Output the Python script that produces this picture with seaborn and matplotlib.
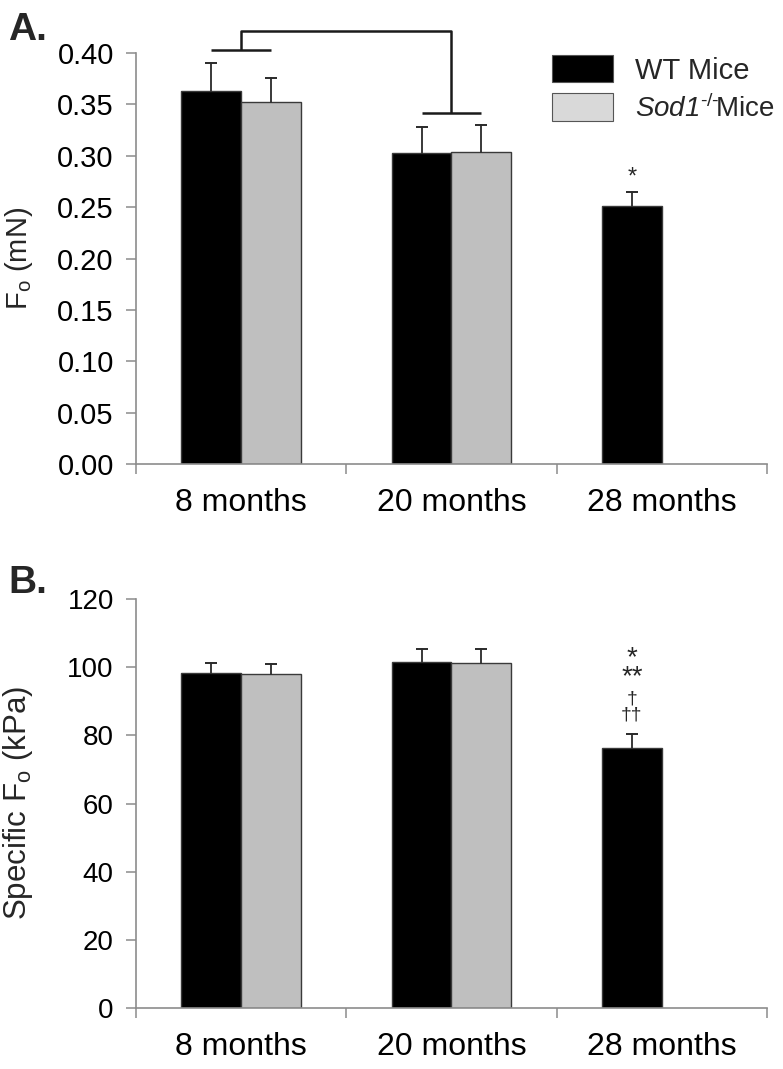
import matplotlib
matplotlib.use("Agg")
import matplotlib.pyplot as plt
from matplotlib.patches import Patch
import seaborn as sns
import pandas as pd
import numpy as np

# data
ages = ['8 months', '20 months', '28 months']
groups = ['WT', 'Sod1']

fo_wt = [0.363, 0.303, 0.251]
fo_wt_err = [0.027, 0.025, 0.014]
fo_sod = [0.352, 0.304]
fo_sod_err = [0.024, 0.026]

sfo_wt = [98.3, 101.4, 76.4]
sfo_wt_err = [3.0, 4.0, 3.9]
sfo_sod = [98.1, 101.1]
sfo_sod_err = [2.7, 4.2]

fo_ticks = [0.00, 0.05, 0.10, 0.15, 0.20, 0.25, 0.30, 0.35, 0.40]
sfo_ticks = [0, 20, 40, 60, 80, 100, 120]

bar_colors = ['#000000', '#bfbfbf']
legend_colors = ['#000000', '#d9d9d9']
legend_labels = ['WT Mice', r'$\mathsf{Sod1}^{\text{-/-}}\!$Mice']

sns.set_theme(style='white')
plt.rcParams['font.family'] = ['Liberation Sans', 'DejaVu Sans']
plt.rcParams['mathtext.fontset'] = 'custom'
plt.rcParams['mathtext.rm'] = 'Liberation Sans'
plt.rcParams['mathtext.it'] = 'Liberation Sans:italic'
plt.rcParams['mathtext.sf'] = 'Liberation Sans:italic'
plt.rcParams['mathtext.bf'] = 'Liberation Sans:bold'

spine_col = '#8c8c8c'


def make_df(wt, sod):
    rows = [(a, 'WT', v) for a, v in zip(ages, wt)]
    rows += [(a, 'Sod1', v) for a, v in zip(ages, sod)]
    return pd.DataFrame(rows, columns=['age', 'group', 'value'])


def draw_panel(ax, wt, wt_err, sod, sod_err, ticks, fmt, yfs):
    df = make_df(wt, sod)
    sns.barplot(data=df, x='age', y='value', hue='group', order=ages,
                hue_order=groups, palette=bar_colors, width=0.57,
                errorbar=None, edgecolor='#3a3a3a', linewidth=1.0,
                legend=False, ax=ax)
    centers = []
    for cont, errs in zip(ax.containers, [wt_err, sod_err]):
        xs = []
        for bar, e in zip(cont, errs):
            x = bar.get_x() + bar.get_width() / 2
            h = bar.get_height()
            # one-sided error bar: stem plus top cap only
            ax.plot([x, x], [h, h + e], color='#2a2a2a', lw=1.3, zorder=1)
            ax.plot([x], [h + e], marker='_', ms=8, mew=1.4, color='#2a2a2a', zorder=1)
            xs.append(x)
        centers.append(xs)
    ax.set_xlim(-0.5, 2.5)
    ax.set_ylim(ticks[0], ticks[-1])
    ax.set_yticks(ticks)
    ax.set_yticklabels([fmt.format(t) for t in ticks])
    ax.set_xticks(range(len(ages)))
    ax.set_xticklabels(ages)
    ax.set_xticks([-0.5, 0.5, 1.5, 2.5], minor=True)
    for s in ['top', 'right']:
        ax.spines[s].set_visible(False)
    for s in ['left', 'bottom']:
        ax.spines[s].set_color(spine_col)
        ax.spines[s].set_linewidth(1.2)
    ax.tick_params(axis='y', which='major', left=True, length=7, width=1.1,
                   color=spine_col, pad=9, labelsize=yfs, labelcolor='black')
    ax.tick_params(axis='x', which='major', bottom=False, length=0, pad=17,
                   labelsize=23, labelcolor='black')
    ax.tick_params(axis='x', which='minor', bottom=True, length=7, width=1.1,
                   color=spine_col)
    ax.set_xlabel('')
    return centers


fig = plt.figure(figsize=(7.83, 10.69), dpi=100)
axA = fig.add_axes([136 / 783, 1 - 464 / 1069, 631 / 783, 411 / 1069])
axB = fig.add_axes([136 / 783, 1 - 1008 / 1069, 631 / 783, 409 / 1069])

cA = draw_panel(axA, fo_wt, fo_wt_err, fo_sod, fo_sod_err, fo_ticks, '{:.2f}', 21)
cB = draw_panel(axB, sfo_wt, sfo_wt_err, sfo_sod, sfo_sod_err, sfo_ticks, '{:.0f}', 20)

axA.set_ylabel(r'F$_\mathrm{o}$ (mN)', fontsize=21)
axB.set_ylabel(r'Specific F$_\mathrm{o}$ (kPa)', fontsize=22.5)
axA.yaxis.set_label_coords(-0.16, 0.5)
axB.yaxis.set_label_coords(-0.16, 0.5)

# significance brackets in panel A
bk = dict(color='#1a1a1a', lw=1.8, clip_on=False, solid_capstyle='butt')
wt8, wt20 = cA[0][0], cA[0][1]
sod8, sod20 = cA[1][0], cA[1][1]
mid8 = (wt8 + sod8) / 2
mid20 = (wt20 + sod20) / 2
axA.plot([wt8, sod8], [0.403, 0.403], **bk)
axA.plot([mid8, mid8, mid20, mid20], [0.403, 0.421, 0.421, 0.342], **bk)
axA.plot([wt20, sod20], [0.342, 0.342], **bk)

axA.text(cA[0][2], 0.279, '*', ha='center', va='center', fontsize=17)

x28 = cB[0][2]
axB.text(x28, 99.8, '*\n**', ha='center', va='center', fontsize=20,
         linespacing=0.62, multialignment='center')
axB.text(x28, 88.4, '†\n††', ha='center', va='center', fontsize=14,
         linespacing=0.95, multialignment='center')

handles = [Patch(facecolor=c, edgecolor='#555555', linewidth=0.8) for c in legend_colors]
leg = axA.legend(handles, legend_labels, loc='upper left', frameon=False,
                 bbox_to_anchor=(552 / 783, 1 - 55 / 1069), bbox_transform=fig.transFigure,
                 borderpad=0, borderaxespad=0, fontsize=21, handlelength=2.09,
                 handleheight=1.06, handletextpad=0.75, labelspacing=0.3)
leg.get_texts()[1].set_fontsize(20)

fig.text(8 / 783, 1 - 40 / 1069, 'A.', fontsize=28, fontweight='bold', ha='left', va='baseline')
fig.text(8 / 783, 1 - 593 / 1069, 'B.', fontsize=28, fontweight='bold', ha='left', va='baseline')

fig.savefig('out.png', dpi=100)
